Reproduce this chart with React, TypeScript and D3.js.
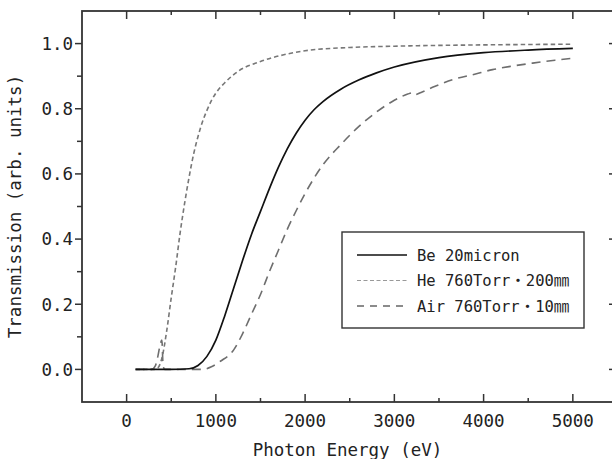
import { useEffect, useRef } from 'react'
import * as d3 from 'd3'

// photon energy (eV) / transmission
const beEnergy = [100, 500, 700, 800, 900, 1000, 1100, 1200, 1300, 1400, 1500, 1600, 1700, 1800, 1900, 2000, 2100, 2200, 2400, 2600, 2800, 3000, 3500, 4000, 4500, 5000]
const beTrans = [0, 0, 0.002, 0.012, 0.04, 0.09, 0.165, 0.25, 0.335, 0.415, 0.485, 0.555, 0.62, 0.677, 0.725, 0.765, 0.797, 0.822, 0.86, 0.888, 0.91, 0.928, 0.957, 0.972, 0.98, 0.985]

const heEnergy = [100, 300, 350, 400, 450, 500, 550, 600, 650, 700, 750, 800, 850, 900, 950, 1000, 1100, 1250, 1500, 1750, 2000, 2500, 3000, 4000, 5000]
const heTrans = [0, 0, 0.005, 0.04, 0.12, 0.22, 0.315, 0.42, 0.51, 0.59, 0.66, 0.715, 0.76, 0.795, 0.825, 0.848, 0.88, 0.915, 0.945, 0.965, 0.978, 0.988, 0.992, 0.996, 0.998]

const airEnergy = [100, 280, 320, 350, 375, 395, 408, 425, 850, 950, 1050, 1200, 1300, 1400, 1500, 1600, 1700, 1800, 1900, 2000, 2200, 2400, 2600, 2800, 3000, 3150, 3200, 3230, 3300, 3450, 3650, 3900, 4100, 4300, 4550, 4800, 5000]
const airTrans = [0, 0, 0.01, 0.04, 0.075, 0.09, 0.015, 0, 0, 0.008, 0.025, 0.06, 0.11, 0.17, 0.23, 0.3, 0.365, 0.43, 0.487, 0.54, 0.628, 0.69, 0.745, 0.79, 0.826, 0.845, 0.849, 0.843, 0.85, 0.868, 0.889, 0.906, 0.92, 0.93, 0.94, 0.949, 0.955]

const xTicks = [0, 1000, 2000, 3000, 4000, 5000]
const xMinor = [500, 1500, 2500, 3500, 4500]
const yTicks = [0, 0.2, 0.4, 0.6, 0.8, 1.0]
const yMinor = [0.1, 0.3, 0.5, 0.7, 0.9]

const legendLabels = ['Be 20micron', 'He 760Torr・200㎜', 'Air 760Torr・10㎜']

const FONT = '"DejaVu Sans Mono", "Noto Sans CJK JP", monospace'

function TransmissionChart() {
  const ref = useRef<SVGSVGElement | null>(null)

  useEffect(() => {
    const svg = d3.select(ref.current)
    svg.selectAll('*').remove()

    const left = 82
    const right = 613
    const top = 11
    const bottom = 402

    const x = d3.scaleLinear().domain([-500, 5450]).range([left, right])
    const y = d3.scaleLinear().domain([-0.1, 1.1]).range([bottom, top])

    const axisColor = '#333'

    // frame
    svg
      .append('rect')
      .attr('x', left)
      .attr('y', top)
      .attr('width', right - left)
      .attr('height', bottom - top)
      .attr('fill', 'none')
      .attr('stroke', axisColor)
      .attr('stroke-width', 1.8)

    const ticks = svg.append('g').attr('stroke', axisColor).attr('stroke-width', 1.5)

    // bottom + top ticks point inward
    xTicks.forEach((v) => {
      ticks.append('line').attr('x1', x(v)).attr('x2', x(v)).attr('y1', bottom).attr('y2', bottom - 8)
      ticks.append('line').attr('x1', x(v)).attr('x2', x(v)).attr('y1', top).attr('y2', top + 8)
    })
    xMinor.forEach((v) => {
      ticks.append('line').attr('x1', x(v)).attr('x2', x(v)).attr('y1', bottom).attr('y2', bottom - 4)
      ticks.append('line').attr('x1', x(v)).attr('x2', x(v)).attr('y1', top).attr('y2', top + 4)
    })
    // left ticks point outward, right ticks inward
    yTicks.forEach((v) => {
      ticks.append('line').attr('x1', left).attr('x2', left - 7).attr('y1', y(v)).attr('y2', y(v))
      ticks.append('line').attr('x1', right).attr('x2', right - 4).attr('y1', y(v)).attr('y2', y(v))
    })
    yMinor.forEach((v) => {
      ticks.append('line').attr('x1', left).attr('x2', left - 5).attr('y1', y(v)).attr('y2', y(v))
    })

    svg
      .append('g')
      .selectAll('text')
      .data(xTicks)
      .join('text')
      .attr('x', (d) => x(d))
      .attr('y', 427)
      .attr('text-anchor', 'middle')
      .attr('font-family', FONT)
      .attr('font-size', 17.5)
      .attr('fill', '#222')
      .text((d) => String(d))

    svg
      .append('g')
      .selectAll('text')
      .data(yTicks)
      .join('text')
      .attr('x', 73)
      .attr('y', (d) => y(d))
      .attr('dy', '0.36em')
      .attr('text-anchor', 'end')
      .attr('font-family', FONT)
      .attr('font-size', 17.5)
      .attr('fill', '#222')
      .text((d) => d.toFixed(1))

    svg
      .append('text')
      .attr('x', (left + right) / 2)
      .attr('y', 456)
      .attr('text-anchor', 'middle')
      .attr('font-family', FONT)
      .attr('font-size', 17.5)
      .attr('fill', '#222')
      .text('Photon Energy (eV)')

    svg
      .append('text')
      .attr('transform', `translate(21, ${(top + bottom) / 2}) rotate(-90)`)
      .attr('text-anchor', 'middle')
      .attr('font-family', FONT)
      .attr('font-size', 17.5)
      .attr('fill', '#222')
      .text('Transmission (arb. units)')

    const line = d3
      .line<[number, number]>()
      .x((d) => x(d[0]))
      .y((d) => y(d[1]))
      .curve(d3.curveMonotoneX)

    const zip = (a: number[], b: number[]) => a.map((v, i) => [v, b[i]] as [number, number])

    svg
      .append('path')
      .attr('d', line(zip(airEnergy, airTrans)))
      .attr('fill', 'none')
      .attr('stroke', '#6e6e6e')
      .attr('stroke-width', 1.6)
      .attr('stroke-dasharray', '9,6')

    svg
      .append('path')
      .attr('d', line(zip(heEnergy, heTrans)))
      .attr('fill', 'none')
      .attr('stroke', '#777')
      .attr('stroke-width', 1.6)
      .attr('stroke-dasharray', '4.5,3')

    svg
      .append('path')
      .attr('d', line(zip(beEnergy, beTrans)))
      .attr('fill', 'none')
      .attr('stroke', '#111')
      .attr('stroke-width', 1.7)

    // legend
    const legend = svg.append('g')
    legend
      .append('rect')
      .attr('x', 342)
      .attr('y', 232)
      .attr('width', 242)
      .attr('height', 96)
      .attr('fill', '#fff')
      .attr('stroke', axisColor)
      .attr('stroke-width', 1.4)

    const styles = [
      { stroke: '#111', dash: null, width: 1.6 },
      { stroke: '#999', dash: '4,2.5', width: 1.2 },
      { stroke: '#666', dash: '7,6', width: 1.3 },
    ]
    legendLabels.forEach((label, i) => {
      const ly = 255 + i * 25.5
      const l = legend
        .append('line')
        .attr('x1', 357)
        .attr('x2', 407)
        .attr('y1', ly)
        .attr('y2', ly)
        .attr('stroke', styles[i].stroke)
        .attr('stroke-width', styles[i].width)
      if (styles[i].dash) l.attr('stroke-dasharray', styles[i].dash)
      legend
        .append('text')
        .attr('x', 417)
        .attr('y', ly)
        .attr('dy', '0.36em')
        .attr('font-family', FONT)
        .attr('font-size', 15.5)
        .attr('fill', '#222')
        .text(label)
    })
  }, [])

  return <svg ref={ref} width={612} height={459} style={{ display: 'block' }} />
}

export default function App() {
  return (
    <>
      <style>{'body{margin:0;background:#fff}'}</style>
      <TransmissionChart />
    </>
  )
}
